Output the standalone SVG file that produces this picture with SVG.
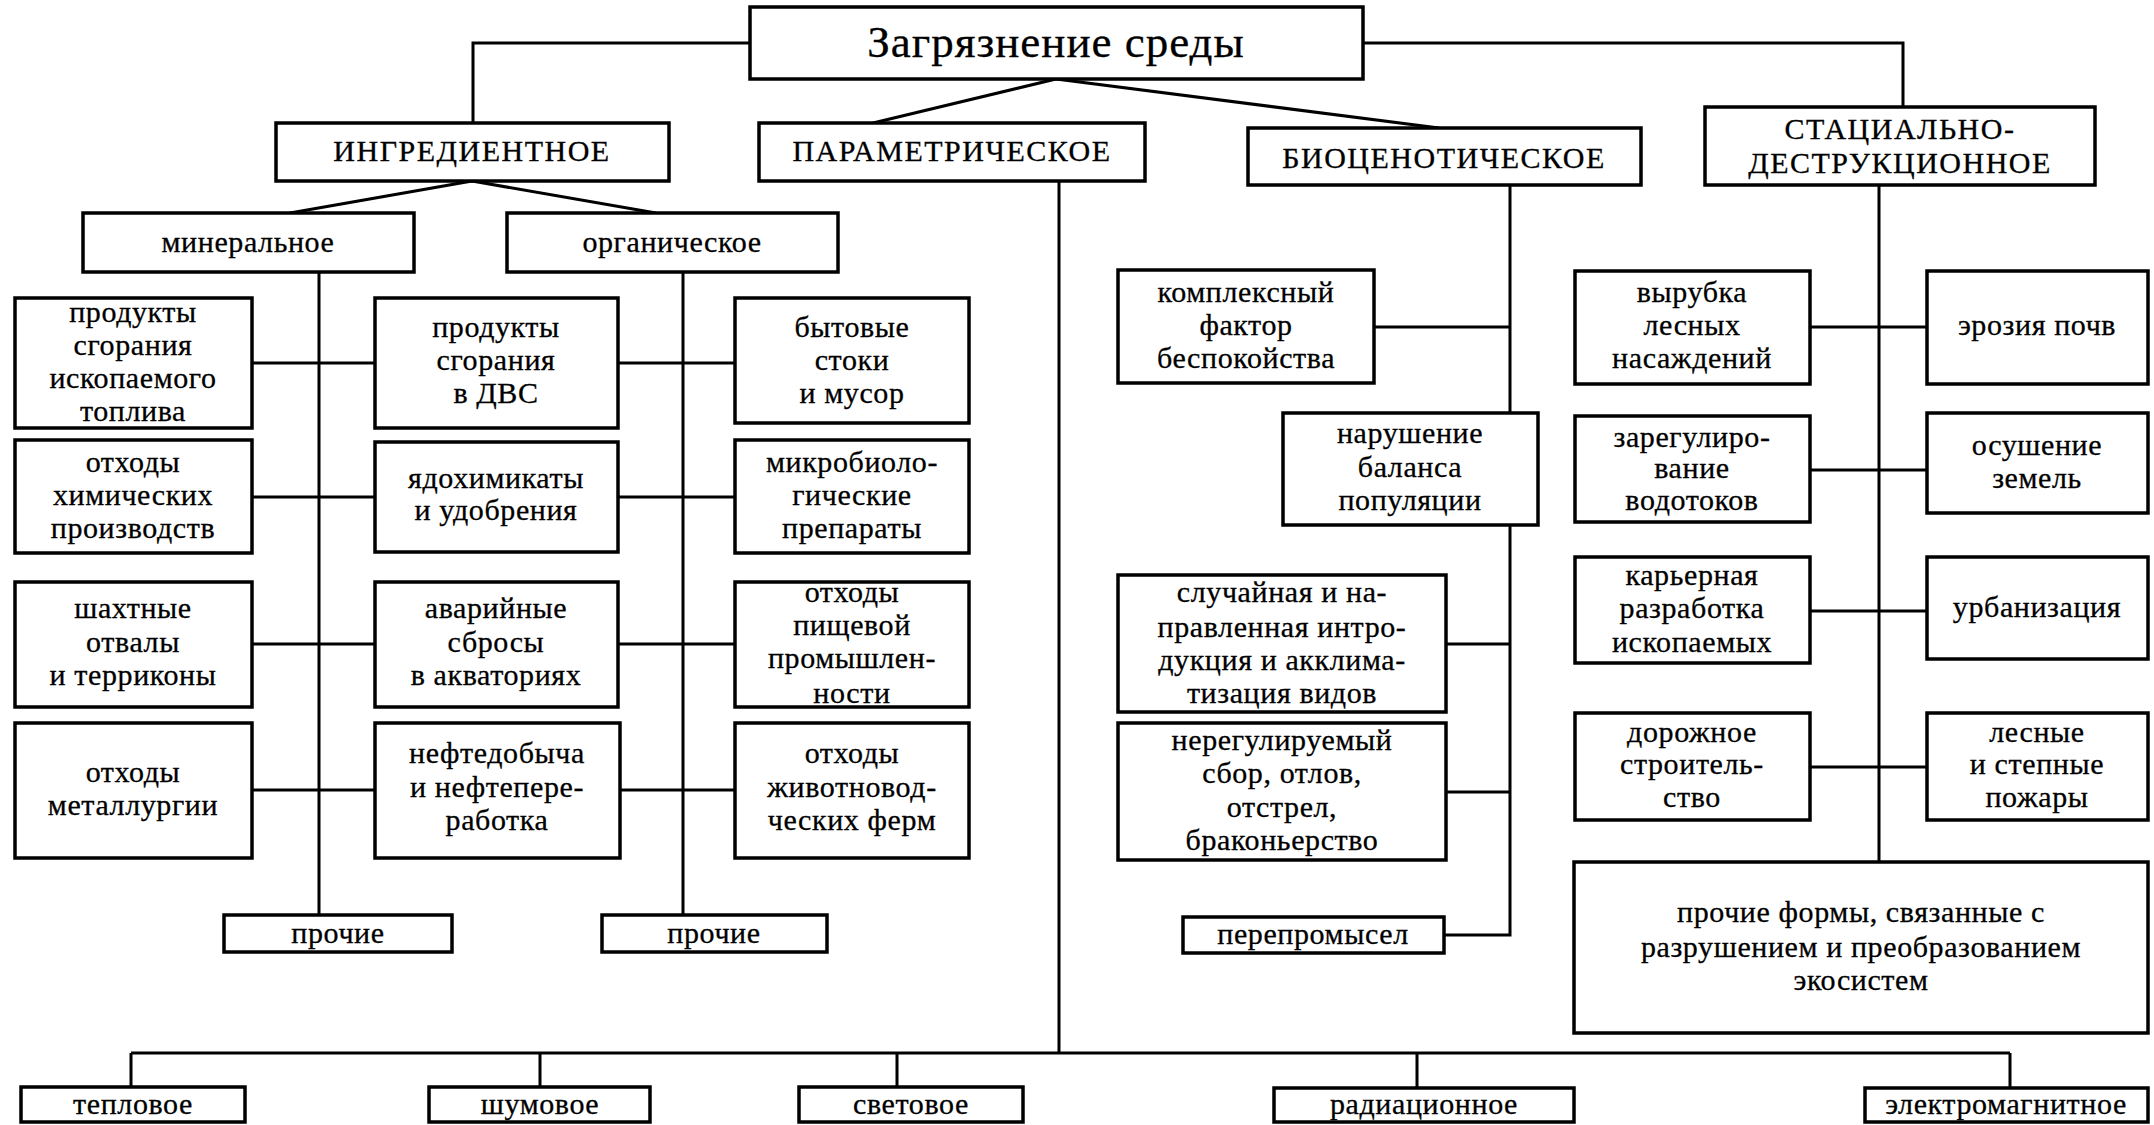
<svg xmlns="http://www.w3.org/2000/svg" width="2154" height="1125" viewBox="0 0 2154 1125">
<style>
rect{fill:#fff;stroke:#000;stroke-width:3.5}
text{font-family:"Liberation Serif","Times New Roman",serif;fill:#000;stroke:#000;stroke-width:0.3;text-anchor:middle}
.t0{font-size:45px;letter-spacing:1px}
.t1{font-size:30px;letter-spacing:1.5px}
.t2{font-size:30px;letter-spacing:0.6px}
#connectors path{fill:none;stroke:#000;stroke-width:3}
</style>
<rect x="0" y="0" width="2154" height="1125" style="stroke:none;fill:#fff"/>
<g id="connectors">
<path d="M750 43H473V123"/>
<path d="M1363 43H1903V107"/>
<path d="M1056 79L873 123"/>
<path d="M1056 79L1439 128"/>
<path d="M472 181L290 213"/>
<path d="M472 181L656 213"/>
<path d="M319 272V915"/>
<path d="M683 272V915"/>
<path d="M252 363H375M618 363H735"/>
<path d="M252 497H375M618 497H735"/>
<path d="M252 644H375M618 644H735"/>
<path d="M252 790H375M618 790H735"/>
<path d="M1059 181V1053"/>
<path d="M131 1053H2010"/>
<path d="M131 1053V1087M540 1053V1087M897 1053V1087M1417 1053V1087M2010 1053V1087"/>
<path d="M1510 185V413M1510 525V935H1444"/>
<path d="M1374 327H1510M1446 644H1510M1446 792H1510"/>
<path d="M1879 185V862"/>
<path d="M1810 327H1927M1810 470H1927M1810 611H1927M1810 767H1927"/>
</g>
<g id="n-root"><rect x="750" y="7" width="613" height="72"/><text class="t0" x="1056" y="57">Загрязнение среды</text></g>
<g id="n-ingr"><rect x="276" y="123" width="393" height="58"/><text class="t1" x="472" y="161">ИНГРЕДИЕНТНОЕ</text></g>
<g id="n-param"><rect x="759" y="123" width="386" height="58"/><text class="t1" x="952" y="161">ПАРАМЕТРИЧЕСКОЕ</text></g>
<g id="n-bio"><rect x="1248" y="128" width="393" height="57"/><text class="t1" x="1444" y="168">БИОЦЕНОТИЧЕСКОЕ</text></g>
<g id="n-stat"><rect x="1705" y="107" width="390" height="78"/><text class="t1" x="1900" y="139">СТАЦИАЛЬНО-</text><text class="t1" x="1900" y="173">ДЕСТРУКЦИОННОЕ</text></g>
<g id="n-min"><rect x="83" y="213" width="331" height="59"/><text class="t2" x="248" y="252">минеральное</text></g>
<g id="n-org"><rect x="507" y="213" width="331" height="59"/><text class="t2" x="672" y="252">органическое</text></g>
<g id="n-r1c1"><rect x="15" y="298" width="237" height="130"/><text class="t2" x="133" y="322">продукты</text><text class="t2" x="133" y="355">сгорания</text><text class="t2" x="133" y="388">ископаемого</text><text class="t2" x="133" y="421">топлива</text></g>
<g id="n-r1c2"><rect x="375" y="298" width="243" height="130"/><text class="t2" x="496" y="337">продукты</text><text class="t2" x="496" y="370">сгорания</text><text class="t2" x="496" y="403">в ДВС</text></g>
<g id="n-r1c3"><rect x="735" y="298" width="234" height="125"/><text class="t2" x="852" y="337">бытовые</text><text class="t2" x="852" y="370">стоки</text><text class="t2" x="852" y="403">и мусор</text></g>
<g id="n-r2c1"><rect x="15" y="440" width="237" height="113"/><text class="t2" x="133" y="472">отходы</text><text class="t2" x="133" y="505">химических</text><text class="t2" x="133" y="538">производств</text></g>
<g id="n-r2c2"><rect x="375" y="442" width="243" height="110"/><text class="t2" x="496" y="488">ядохимикаты</text><text class="t2" x="496" y="520">и удобрения</text></g>
<g id="n-r2c3"><rect x="735" y="440" width="234" height="113"/><text class="t2" x="852" y="472">микробиоло-</text><text class="t2" x="852" y="505">гические</text><text class="t2" x="852" y="538">препараты</text></g>
<g id="n-r3c1"><rect x="15" y="582" width="237" height="125"/><text class="t2" x="133" y="618">шахтные</text><text class="t2" x="133" y="652">отвалы</text><text class="t2" x="133" y="685">и терриконы</text></g>
<g id="n-r3c2"><rect x="375" y="582" width="243" height="125"/><text class="t2" x="496" y="618">аварийные</text><text class="t2" x="496" y="652">сбросы</text><text class="t2" x="496" y="685">в акваториях</text></g>
<g id="n-r3c3"><rect x="735" y="582" width="234" height="125"/><text class="t2" x="852" y="602">отходы</text><text class="t2" x="852" y="635">пищевой</text><text class="t2" x="852" y="668">промышлен-</text><text class="t2" x="852" y="703">ности</text></g>
<g id="n-r4c1"><rect x="15" y="723" width="237" height="135"/><text class="t2" x="133" y="782">отходы</text><text class="t2" x="133" y="815">металлургии</text></g>
<g id="n-r4c2"><rect x="375" y="723" width="245" height="135"/><text class="t2" x="497" y="763">нефтедобыча</text><text class="t2" x="497" y="797">и нефтепере-</text><text class="t2" x="497" y="830">работка</text></g>
<g id="n-r4c3"><rect x="735" y="723" width="234" height="135"/><text class="t2" x="852" y="763">отходы</text><text class="t2" x="852" y="797">животновод-</text><text class="t2" x="852" y="830">ческих ферм</text></g>
<g id="n-pr1"><rect x="224" y="915" width="228" height="37"/><text class="t2" x="338" y="943">прочие</text></g>
<g id="n-pr2"><rect x="602" y="915" width="225" height="37"/><text class="t2" x="714" y="943">прочие</text></g>
<g id="n-kompl"><rect x="1118" y="270" width="256" height="113"/><text class="t2" x="1246" y="302">комплексный</text><text class="t2" x="1246" y="335">фактор</text><text class="t2" x="1246" y="368">беспокойства</text></g>
<g id="n-narush"><rect x="1283" y="413" width="255" height="112"/><text class="t2" x="1410" y="443">нарушение</text><text class="t2" x="1410" y="477">баланса</text><text class="t2" x="1410" y="510">популяции</text></g>
<g id="n-sluch"><rect x="1118" y="575" width="328" height="137"/><text class="t2" x="1282" y="602">случайная и на-</text><text class="t2" x="1282" y="637">правленная интро-</text><text class="t2" x="1282" y="670">дукция и акклима-</text><text class="t2" x="1282" y="703">тизация видов</text></g>
<g id="n-nereg"><rect x="1118" y="723" width="328" height="137"/><text class="t2" x="1282" y="750">нерегулируемый</text><text class="t2" x="1282" y="783">сбор, отлов,</text><text class="t2" x="1282" y="817">отстрел,</text><text class="t2" x="1282" y="850">браконьерство</text></g>
<g id="n-perepr"><rect x="1183" y="917" width="261" height="36"/><text class="t2" x="1313" y="944">перепромысел</text></g>
<g id="n-vyr"><rect x="1575" y="271" width="235" height="113"/><text class="t2" x="1692" y="302">вырубка</text><text class="t2" x="1692" y="335">лесных</text><text class="t2" x="1692" y="368">насаждений</text></g>
<g id="n-eroz"><rect x="1927" y="271" width="221" height="113"/><text class="t2" x="2037" y="335">эрозия почв</text></g>
<g id="n-zareg"><rect x="1575" y="416" width="235" height="106"/><text class="t2" x="1692" y="447">зарегулиро-</text><text class="t2" x="1692" y="478">вание</text><text class="t2" x="1692" y="510">водотоков</text></g>
<g id="n-osush"><rect x="1927" y="413" width="221" height="100"/><text class="t2" x="2037" y="455">осушение</text><text class="t2" x="2037" y="488">земель</text></g>
<g id="n-kar"><rect x="1575" y="557" width="235" height="106"/><text class="t2" x="1692" y="585">карьерная</text><text class="t2" x="1692" y="618">разработка</text><text class="t2" x="1692" y="652">ископаемых</text></g>
<g id="n-urb"><rect x="1927" y="557" width="221" height="102"/><text class="t2" x="2037" y="617">урбанизация</text></g>
<g id="n-dor"><rect x="1575" y="713" width="235" height="107"/><text class="t2" x="1692" y="742">дорожное</text><text class="t2" x="1692" y="774">строитель-</text><text class="t2" x="1692" y="807">ство</text></g>
<g id="n-les"><rect x="1927" y="713" width="221" height="107"/><text class="t2" x="2037" y="742">лесные</text><text class="t2" x="2037" y="774">и степные</text><text class="t2" x="2037" y="807">пожары</text></g>
<g id="n-proch"><rect x="1574" y="862" width="574" height="171"/><text class="t2" x="1861" y="922">прочие формы, связанные с</text><text class="t2" x="1861" y="957">разрушением и преобразованием</text><text class="t2" x="1861" y="990">экосистем</text></g>
<g id="n-tepl"><rect x="21" y="1087" width="224" height="35"/><text class="t2" x="133" y="1114">тепловое</text></g>
<g id="n-shum"><rect x="429" y="1087" width="221" height="35"/><text class="t2" x="540" y="1114">шумовое</text></g>
<g id="n-svet"><rect x="799" y="1087" width="224" height="35"/><text class="t2" x="911" y="1114">световое</text></g>
<g id="n-rad"><rect x="1274" y="1088" width="300" height="34"/><text class="t2" x="1424" y="1114">радиационное</text></g>
<g id="n-em"><rect x="1865" y="1088" width="283" height="34"/><text class="t2" x="2006" y="1114">электромагнитное</text></g>
</svg>
